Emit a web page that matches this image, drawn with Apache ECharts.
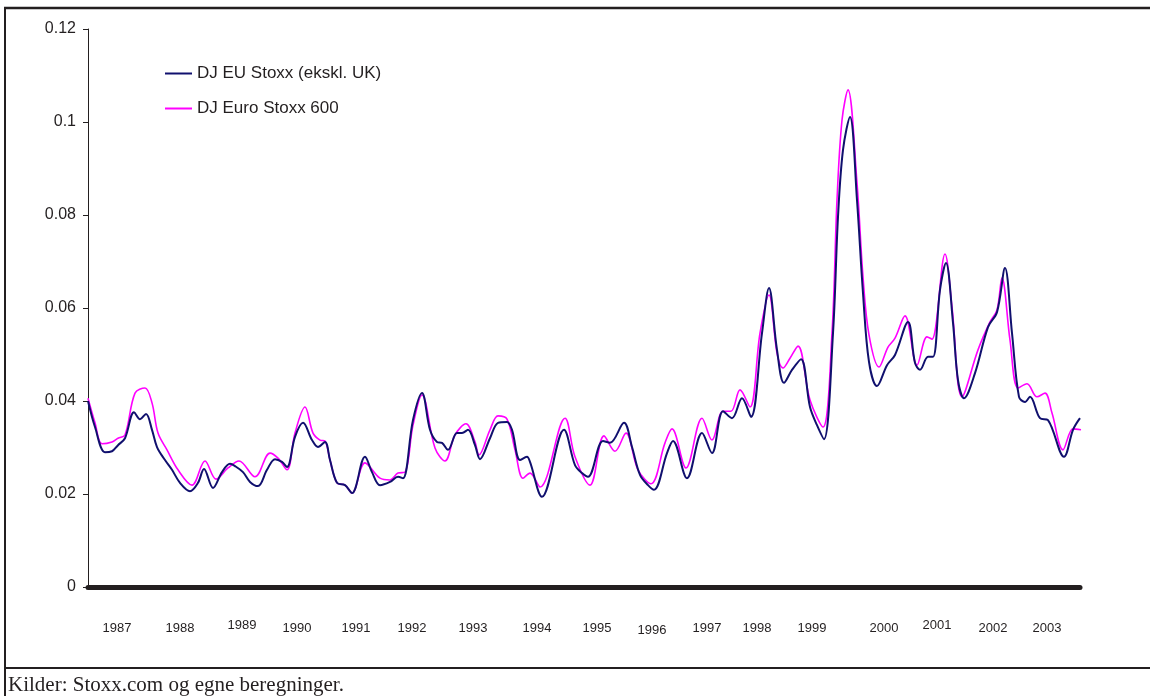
<!DOCTYPE html>
<html>
<head>
<meta charset="utf-8">
<script src="https://cdn.jsdelivr.net/npm/echarts@6/dist/echarts.min.js"></script>
<style>
  html, body { margin: 0; padding: 0; background: #fff; }
  #chart { width: 1150px; height: 696px; }
</style>
</head>
<body>
<div id="chart"></div>
<script>
  // sample positions in months from start of 1987, and values
  const euMonths = [
    0, 1.4, 3.4, 4.8, 6.0, 7.4, 9.2, 10.4, 11.6, 12.8, 13.8, 15.4, 16.8, 18.4, 20.4,
    22.0, 23.2, 25.0, 26.8, 28.4, 29.4, 31.0, 32.4, 34.0, 35.8, 37.4, 38.8, 39.8,
    41.4, 43.0, 44.8, 46.0, 47.4, 48.4, 49.8, 51.4, 52.8, 55.4, 56.8, 58.4, 60.4,
    62.0, 63.0, 65.0, 66.8, 68.4, 69.8, 70.8, 72.0, 73.8, 74.8, 76.0, 77.4, 78.4,
    80.4, 82.0, 83.8, 84.8, 86.4, 87.8, 88.4, 90.8, 95.2, 97.4, 98.8, 100.0, 103.0,
    104.4, 107.2, 108.8, 110.4, 112.0, 113.2, 115.8, 117.0, 119.8, 122.8, 124.8,
    127.0, 128.8, 130.8, 132.6, 134.8, 136.2, 137.8, 139.2, 140.8, 142.6, 144.4,
    145.8, 147.2, 149.0, 150.0, 151.0, 152.4, 153.8, 155.0, 156.2, 157.8, 159.8,
    161.4, 164.0, 165.4, 166.4, 168.0, 169.0, 170.4, 171.6, 173.0, 174.0, 175.2,
    177.4, 180.0, 181.8, 183.4, 184.8, 186.2, 187.4, 188.4, 190.4, 192.0, 195.2,
    197.0, 198.4
  ]
  const euStoxx = [
    0.0400, 0.0344, 0.0290, 0.0292, 0.0305, 0.0320, 0.0376, 0.0361, 0.0372, 0.0338,
    0.0301, 0.0273, 0.0252, 0.0224, 0.0206, 0.0224, 0.0254, 0.0213, 0.0247, 0.0265,
    0.0260, 0.0247, 0.0226, 0.0217, 0.0252, 0.0275, 0.0269, 0.0258, 0.0323, 0.0353,
    0.0316, 0.0301, 0.0312, 0.0273, 0.0224, 0.0219, 0.0202, 0.0280, 0.0247, 0.0219,
    0.0226, 0.0237, 0.0234, 0.0359, 0.0417, 0.0338, 0.0312, 0.0310, 0.0295, 0.0331,
    0.0331, 0.0338, 0.0305, 0.0275, 0.0320, 0.0353, 0.0355, 0.0338, 0.0273, 0.0280,
    0.0269, 0.0194, 0.0338, 0.0262, 0.0245, 0.0237, 0.0314, 0.0310, 0.0353, 0.0301,
    0.0241, 0.0219, 0.0209, 0.0288, 0.0314, 0.0234, 0.0331, 0.0288, 0.0378, 0.0363,
    0.0406, 0.0366, 0.0546, 0.0643, 0.0510, 0.0439, 0.0467, 0.0490, 0.0387, 0.0348,
    0.0318, 0.0546, 0.0796, 0.0940, 0.1011, 0.0832, 0.0632, 0.0484, 0.0432, 0.0477,
    0.0499, 0.0570, 0.0482, 0.0467, 0.0495, 0.0495, 0.0639, 0.0697, 0.0568, 0.0445,
    0.0406, 0.0460, 0.0559, 0.0591, 0.0686, 0.0546, 0.0409, 0.0398, 0.0409, 0.0363,
    0.0359, 0.0280, 0.0338, 0.0363
  ]

  const euroMonths = [
    0, 1.4, 2.8, 4.8, 6.0, 7.4, 9.4, 11.4, 12.8, 14.0, 15.8, 18.0, 20.8, 23.4, 25.6,
    28.0, 30.2, 33.4, 36.4, 38.0, 39.8, 41.4, 43.4, 45.0, 46.4, 47.4, 48.4, 49.8,
    51.4, 52.8, 55.4, 58.4, 60.4, 62.0, 63.4, 65.0, 66.8, 69.4, 71.4, 73.4, 75.6,
    77.4, 78.2, 80.4, 82.0, 83.8, 85.4, 87.0, 88.4, 90.4, 95.4, 97.4, 100.4, 103.2,
    105.4, 107.6, 110.0, 112.6, 115.4, 116.8, 119.6, 122.8, 124.8, 127.0, 128.6,
    130.4, 132.4, 134.4, 136.2, 137.8, 139.0, 140.4, 142.0, 144.4, 147.0, 148.8,
    149.8, 150.8, 152.0, 153.8, 155.0, 156.2, 158.2, 160.0, 161.4, 163.4, 165.8,
    167.8, 168.8, 171.4, 172.8, 174.8, 178.0, 180.4, 181.8, 182.8, 184.4, 186.0,
    187.8, 189.8, 191.4, 192.8, 195.0, 197.0, 198.6
  ]
  const euroStoxx600 = [
    0.0406, 0.0353, 0.0308, 0.0312, 0.0320, 0.0327, 0.0417, 0.0428, 0.0396, 0.0331,
    0.0295, 0.0252, 0.0219, 0.0271, 0.0232, 0.0256, 0.0271, 0.0237, 0.0288, 0.0277,
    0.0252, 0.0331, 0.0387, 0.0331, 0.0316, 0.0314, 0.0273, 0.0224, 0.0219, 0.0202,
    0.0267, 0.0234, 0.0230, 0.0245, 0.0247, 0.0348, 0.0413, 0.0299, 0.0271, 0.0327,
    0.0351, 0.0312, 0.0284, 0.0338, 0.0368, 0.0361, 0.0295, 0.0234, 0.0245, 0.0215,
    0.0363, 0.0280, 0.0219, 0.0325, 0.0292, 0.0331, 0.0252, 0.0222, 0.0310, 0.0340,
    0.0256, 0.0363, 0.0316, 0.0378, 0.0378, 0.0424, 0.0387, 0.0546, 0.0628, 0.0503,
    0.0471, 0.0492, 0.0518, 0.0402, 0.0344, 0.0546, 0.0832, 0.1004, 0.1069, 0.0869,
    0.0667, 0.0542, 0.0473, 0.0516, 0.0535, 0.0583, 0.0477, 0.0538, 0.0533, 0.0716,
    0.0602, 0.0409, 0.0510, 0.0570, 0.0596, 0.0665, 0.0531, 0.0428, 0.0437, 0.0409,
    0.0417, 0.0374, 0.0295, 0.0340, 0.0338
  ]

  const yearLabels = ['1987', '1988', '1989', '1990', '1991', '1992', '1993', '1994', '1995',
    '1996', '1997', '1998', '1999', '2000', '2001', '2002', '2003']
  const yearLabelAt = [5.8, 18.4, 30.8, 41.8, 53.6, 64.8, 77.0, 89.8, 101.8,
    112.8, 123.8, 133.8, 144.8, 159.2, 169.8, 181.0, 191.8]

  const seriesNames = ['DJ EU Stoxx (ekskl. UK)', 'DJ Euro Stoxx 600']

  // a few year labels sit a little higher / lower in the original
  const raised = ['1989', '2001']
  const lowered = ['1996']

  let chart = echarts.init(document.getElementById('chart'))
  const ink = '#231f20'

  chart.setOption({
    animation: false,
    backgroundColor: '#fff',
    textStyle: { fontFamily: 'Liberation Sans, Arial, sans-serif' },
    grid: { left: 88, top: 29, right: 70, bottom: 109 },
    legend: {
      orient: 'vertical',
      left: 165,
      top: 65,
      padding: 0,
      icon: 'rect',
      itemWidth: 27,
      itemHeight: 2,
      itemGap: 18,
      textStyle: { fontSize: 17, color: ink, padding: [0, 0, 0, 0] },
      data: seriesNames,
    },
    xAxis: {
      type: 'value',
      min: 0,
      max: 198.4,
      splitLine: { show: false },
      axisTick: { show: false },
      axisLine: { show: true, lineStyle: { color: ink, width: 5 } },
      axisLabel: {
        customValues: yearLabelAt,
        margin: 32,
        formatter: function (val) {
          let i = yearLabelAt.indexOf(val)
          let s = i >= 0 ? yearLabels[i] : ''
          if (raised.indexOf(s) >= 0) return '{up|' + s + '}'
          if (lowered.indexOf(s) >= 0) return '{dn|' + s + '}'
          return '{n|' + s + '}'
        },
        rich: {
          n: { fontSize: 13, color: ink, padding: [3, 0, 0, 0] },
          up: { fontSize: 13, color: ink, padding: [0, 0, 0, 0] },
          dn: { fontSize: 13, color: ink, padding: [5, 0, 0, 0] },
        },
      },
    },
    yAxis: {
      type: 'value',
      min: 0,
      max: 0.12,
      interval: 0.02,
      splitLine: { show: false },
      axisLine: { show: true, lineStyle: { color: ink, width: 1 } },
      axisTick: { show: true, length: 5, lineStyle: { color: ink } },
      axisLabel: { fontSize: 16, color: ink, margin: 12 },
    },
    graphic: [
      { type: 'line', shape: { x1: 4, y1: 8, x2: 1150, y2: 8 }, style: { stroke: ink, lineWidth: 2.5 } },
      { type: 'line', shape: { x1: 5, y1: 7, x2: 5, y2: 696 }, style: { stroke: ink, lineWidth: 2 } },
      { type: 'line', shape: { x1: 4, y1: 668, x2: 1150, y2: 668 }, style: { stroke: ink, lineWidth: 2 } },
      {
        type: 'text',
        left: 8,
        top: 675,
        style: {
          text: 'Kilder: Stoxx.com og egne beregninger.',
          font: '21px "Liberation Serif", "Times New Roman", serif',
          fill: ink,
        },
      },
    ],
    series: [
      {
        name: seriesNames[0],
        type: 'line',
        symbol: 'none',
        smooth: 0.35,
        lineStyle: { color: '#10106e', width: 2 },
        itemStyle: { color: '#10106e' },
        data: euMonths.map((m, i) => [m, euStoxx[i]]),
        z: 3,
      },
      {
        name: seriesNames[1],
        type: 'line',
        symbol: 'none',
        smooth: 0.35,
        clip: false,
        lineStyle: { color: '#ff00ff', width: 1.6 },
        itemStyle: { color: '#ff00ff' },
        data: euroMonths.map((m, i) => [m, euroStoxx600[i]]),
        z: 2,
      },
    ],
  })
</script>
</body>
</html>
